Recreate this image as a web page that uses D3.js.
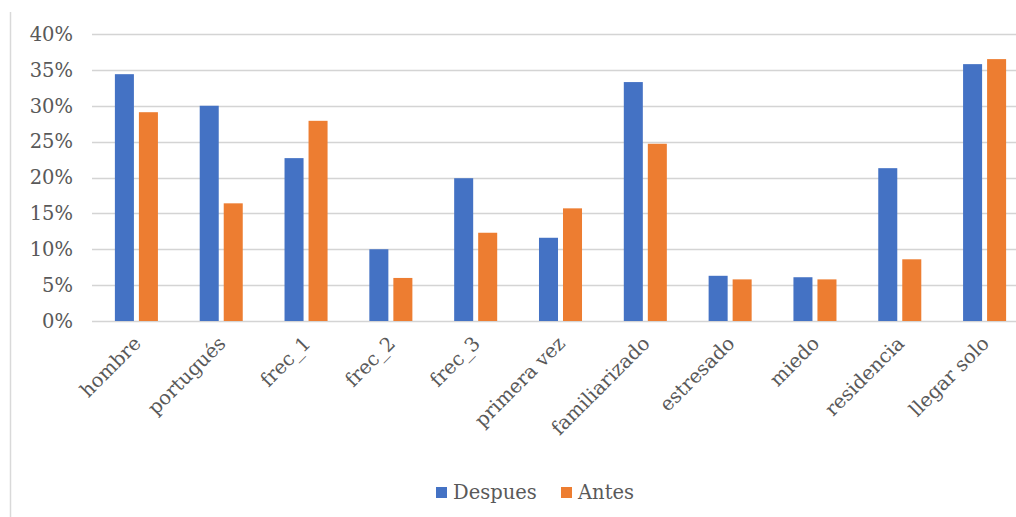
<!DOCTYPE html>
<html><head><meta charset="utf-8">
<script src="https://cdn.jsdelivr.net/npm/d3@7"></script>
<style>
html,body{margin:0;padding:0;background:#fff;}
svg{display:block;font-family:Georgia,"DejaVu Serif",serif;}
</style></head>
<body>
<svg id="chart" width="1016" height="517"></svg>
<script>
const categories = ["hombre","portugués","frec_1","frec_2","frec_3","primera vez","familiarizado","estresado","miedo","residencia","llegar solo"];
const seriesNames = ["Despues","Antes"];
const despues = [34.4,30.0,22.7,10.0,19.9,11.6,33.3,6.3,6.1,21.3,35.8];
const antes   = [29.1,16.4,27.9,6.0,12.3,15.7,24.7,5.8,5.8,8.6,36.5];
const yTicks = [0,5,10,15,20,25,30,35,40];
const colors = ["#4472C4","#ED7D31"];

const svg = d3.select("#chart");
const pLeft = 94, pRight = 1027, pTop = 34, pBottom = 321;
const fontFam = 'Georgia,"DejaVu Serif",serif';

const x = d3.scaleBand().domain(categories).range([pLeft, pRight]).paddingInner(0).paddingOuter(0);
const y = d3.scaleLinear().domain([0,40]).range([pBottom, pTop]);
const x1 = d3.scaleBand().domain(seriesNames).range([0, x.bandwidth()]).paddingInner(0.208).paddingOuter(0.87);

// left frame line
svg.append("line").attr("x1",10.5).attr("x2",10.5).attr("y1",12).attr("y2",517)
  .attr("stroke","#d9d9d9").attr("stroke-width",1.5);

// gridlines
svg.append("g").selectAll("line").data(yTicks).join("line")
  .attr("x1",pLeft-2).attr("x2",pRight)
  .attr("y1",d=>Math.round(y(d))+0.5).attr("y2",d=>Math.round(y(d))+0.5)
  .attr("stroke","#d4d4d4").attr("stroke-width",1.5);

// y axis labels
const yAxis = d3.axisLeft(y).tickValues(yTicks).tickFormat(d=>d+"%").tickSize(0).tickPadding(0);
const gy = svg.append("g").attr("transform",`translate(73,0)`).call(yAxis);
gy.select(".domain").remove();
gy.selectAll("text").attr("font-size",19.5).attr("fill","#595959").attr("font-family",fontFam);

// bars
const data = categories.map((c,i)=>({c, vals:[{s:"Despues",v:despues[i]},{s:"Antes",v:antes[i]}]}));
const groups = svg.append("g").selectAll("g").data(data).join("g")
  .attr("transform",d=>`translate(${x(d.c)},0)`);
groups.selectAll("rect").data(d=>d.vals).join("rect")
  .attr("x",d=>x1(d.s)).attr("width",x1.bandwidth())
  .attr("y",d=>y(d.v)).attr("height",d=>y(0)-y(d.v))
  .attr("fill",(d,i)=>colors[i]);

// x labels
const xAxis = d3.axisBottom(x).tickSize(0).tickPadding(0);
const gx = svg.append("g").attr("transform",`translate(-4,${pBottom+14})`).call(xAxis);
gx.select(".domain").remove();
gx.selectAll("text").attr("font-size",19.5).attr("fill","#595959")
  .attr("font-family",fontFam)
  .attr("text-anchor","end").attr("dy","0.7em")
  .attr("transform","rotate(-45)");

// legend
const legend = svg.append("g");
const legX = [436, 561];
seriesNames.forEach((s,i)=>{
  legend.append("rect").attr("x",legX[i]).attr("y",487).attr("width",11).attr("height",11).attr("fill",colors[i]);
  legend.append("text").attr("x",legX[i]+17).attr("y",499).attr("font-size",19.5).attr("fill","#595959").attr("font-family",fontFam).text(s);
});
</script>
</body></html>
